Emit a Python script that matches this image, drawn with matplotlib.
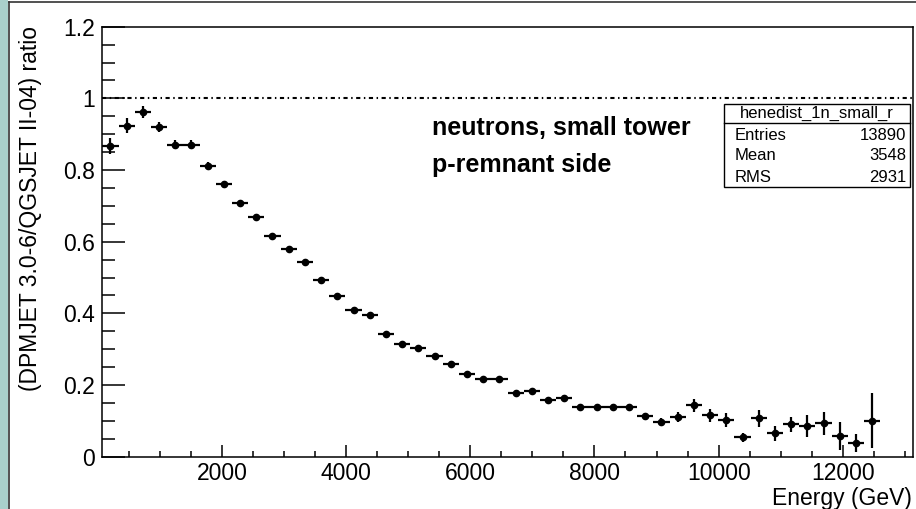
import numpy as np
import matplotlib
matplotlib.use("Agg")
import matplotlib.pyplot as plt
from matplotlib.patches import Rectangle
from matplotlib.lines import Line2D
from matplotlib.ticker import MultipleLocator

plt.rcParams['font.family'] = ['Liberation Sans', 'DejaVu Sans']

# histogram binning: 50 bins over the energy range
e_lo, e_hi, nbins = 75.0, 13125.0, 50

ratio = [0.866, 0.924, 0.961, 0.919, 0.871, 0.871, 0.8125, 0.760, 0.7075, 0.6685,
         0.6148, 0.581, 0.543, 0.493, 0.4496, 0.4106, 0.3956, 0.3426, 0.3148, 0.302,
         0.2824, 0.260, 0.231, 0.217, 0.2156, 0.179, 0.182, 0.158, 0.165, 0.140,
         0.140, 0.138, 0.138, 0.113, 0.0975, 0.1097, 0.144, 0.116, 0.102, 0.054,
         0.107, 0.065, 0.090, 0.0855, 0.093, 0.0577, 0.037, 0.100]
ratio_err = [0.022, 0.020, 0.017, 0.014, 0.012, 0.012, 0.010, 0.009, 0.008, 0.008,
             0.008, 0.008, 0.007, 0.007, 0.007, 0.007, 0.007, 0.006, 0.006, 0.006,
             0.006, 0.006, 0.006, 0.006, 0.006, 0.006, 0.006, 0.006, 0.007, 0.007,
             0.007, 0.008, 0.008, 0.010, 0.011, 0.014, 0.018, 0.018, 0.019, 0.013,
             0.024, 0.021, 0.020, 0.031, 0.032, 0.038, 0.025, 0.077]

stats_title = "henedist_1n_small_r"
stats_rows = [("Entries", "13890"), ("Mean", "3548"), ("RMS", "2931")]

edges = np.linspace(e_lo, e_hi, nbins + 1)
centers = 0.5 * (edges[:-1] + edges[1:])[:len(ratio)]
half = 0.5 * (edges[1] - edges[0])

W, H = 916, 509
fig = plt.figure(figsize=(W / 100, H / 100), dpi=100)
fig.patch.set_facecolor('white')

# canvas window edge
fig.add_artist(Rectangle((0, 0), 8 / W, 1, transform=fig.transFigure,
                         facecolor='#a9d0cb', edgecolor='none'))
fig.add_artist(Line2D([8.5 / W, 8.5 / W], [0, 1 - 2 / H], transform=fig.transFigure,
                      color='#333333', lw=1.2))
fig.add_artist(Line2D([8.5 / W, 1], [1 - 2 / H, 1 - 2 / H], transform=fig.transFigure,
                      color='#333333', lw=1.2))

ax = fig.add_axes([102.3 / W, 1 - 456.7 / H, (912.7 - 102.3) / W, (456.7 - 26.7) / H])
ax.set_xlim(e_lo, e_hi)
ax.set_ylim(0, 1.2)

ax.axhline(1.0, color='black', lw=1.5, ls=(0, (2, 1.7, 0.7, 1.7)), zorder=1)

ax.errorbar(centers, ratio, xerr=half, yerr=ratio_err, fmt='o', ms=4.5,
            color='black', elinewidth=1.6, capsize=0, zorder=3)

ax.xaxis.set_major_locator(MultipleLocator(2000))
ax.xaxis.set_minor_locator(MultipleLocator(500))
ax.yaxis.set_major_locator(MultipleLocator(0.2))
ax.yaxis.set_minor_locator(MultipleLocator(0.05))
ax.set_yticks([0, 0.2, 0.4, 0.6, 0.8, 1.0, 1.2])
ax.set_yticklabels(['0', '0.2', '0.4', '0.6', '0.8', '1', '1.2'])
ax.set_xticks([2000, 4000, 6000, 8000, 10000, 12000])
ax.tick_params(which='both', direction='in', top=False, right=False, labelsize=16.5,
               width=1.1)
ax.tick_params(axis='x', which='major', length=9, pad=4)
ax.tick_params(axis='x', which='minor', length=4.3)
ax.tick_params(axis='y', which='major', length=16.5, pad=5)
ax.tick_params(axis='y', which='minor', length=9)
for sp in ax.spines.values():
    sp.set_linewidth(1.1)

fig.text(911.7 / W, 1 - 498 / H, "Energy (GeV)", ha='right', va='center', fontsize=16.5)
fig.text(31 / W, 1 - 26 / H, "(DPMJET 3.0-6/QGSJET II-04) ratio", rotation=90,
         ha='center', va='top', fontsize=16.5)

fig.text(432 / W, 1 - 128 / H, "neutrons, small tower", fontsize=18, fontweight='bold',
         ha='left', va='center')
fig.text(432 / W, 1 - 165 / H, "p-remnant side", fontsize=18, fontweight='bold',
         ha='left', va='center')

# statistics box
bx0, bx1, by0, by1, bym = 724.3, 910.0, 104.0, 186.7, 123.3
fig.add_artist(Rectangle((bx0 / W, 1 - by1 / H), (bx1 - bx0) / W, (by1 - by0) / H,
                         transform=fig.transFigure, facecolor='white',
                         edgecolor='black', lw=1.0, zorder=5))
fig.add_artist(Line2D([bx0 / W, bx1 / W], [1 - bym / H, 1 - bym / H],
                      transform=fig.transFigure, color='black', lw=1.0, zorder=6))
fig.text((bx0 + bx1) / 2 / W, 1 - 113.5 / H, stats_title, ha='center', va='center',
         fontsize=12, zorder=7)
for i, (k, v) in enumerate(stats_rows):
    yy = 1 - (135 + 21 * i) / H
    fig.text((bx0 + 10) / W, yy, k, ha='left', va='center', fontsize=12, zorder=7)
    fig.text((bx1 - 4) / W, yy, v, ha='right', va='center', fontsize=12, zorder=7)

fig.savefig("out.png", dpi=100)
